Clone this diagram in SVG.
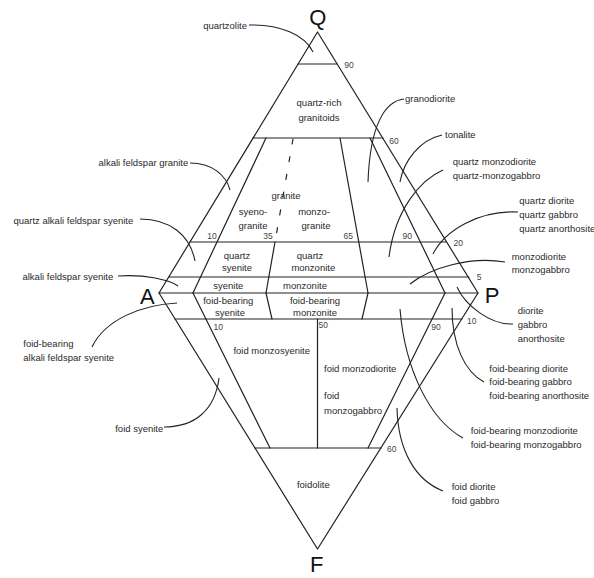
<svg xmlns="http://www.w3.org/2000/svg" width="594" height="578" viewBox="0 0 594 578">
<style>
.ln{fill:none;stroke:#222;stroke-width:1.2;stroke-linecap:round;stroke-linejoin:round}
.ld{fill:none;stroke:#222;stroke-width:1.1}
.t{font-family:"Liberation Sans",Arial,sans-serif;font-size:9.5px;fill:#2a2a2a}
.c{text-anchor:middle}
.e{text-anchor:end}
.n{font-family:"Liberation Sans",Arial,sans-serif;font-size:8.5px;fill:#444;text-anchor:middle}
.v{font-family:"Liberation Sans",Arial,sans-serif;font-size:22px;fill:#111;text-anchor:middle}
</style>
<rect width="594" height="578" fill="#fff"/>
<g id="frame">
<path class="ln" d="M317.5,32 L159,293 L317.5,549 L478,293 Z"/>
<line class="ln" x1="159" y1="293" x2="478" y2="293" stroke-width="2"/>
</g>
<g id="upper-fields">
<line class="ln" x1="298" y1="64" x2="337" y2="64"/>
<line class="ln" x1="253" y1="138" x2="383" y2="138"/>
<line class="ln" x1="190" y1="242" x2="446" y2="242"/>
<line class="ln" x1="169" y1="277" x2="469" y2="277"/>
<line class="ln" x1="266" y1="138" x2="193" y2="293"/>
<line class="ln" x1="293" y1="139" x2="275" y2="242" stroke-dasharray="5,13"/>
<line class="ln" x1="275" y1="242" x2="266" y2="293"/>
<line class="ln" x1="340" y1="138" x2="368" y2="293"/>
<line class="ln" x1="370" y1="138" x2="445" y2="293"/>
</g>
<g id="lower-fields">
<line class="ln" x1="175" y1="319" x2="462" y2="319"/>
<line class="ln" x1="255" y1="448" x2="381" y2="448"/>
<line class="ln" x1="193" y1="293" x2="270" y2="448"/>
<line class="ln" x1="266" y1="293" x2="272" y2="319"/>
<line class="ln" x1="368" y1="293" x2="362" y2="319"/>
<line class="ln" x1="445" y1="293" x2="368" y2="448"/>
<line class="ln" x1="317.5" y1="319" x2="317.5" y2="448"/>
</g>
<g id="connectors">
<path class="ld" d="M249,25 C280,24 305,35 313,52"/>
<path class="ld" d="M404,99 C385,101 370,125 368,182"/>
<path class="ld" d="M442,135 C420,140 404,160 400,182"/>
<path class="ld" d="M443,170 C420,180 395,210 389,257"/>
<path class="ld" d="M518,212 C480,210 445,230 433,254"/>
<path class="ld" d="M505,262 C470,256 430,268 410,284"/>
<path class="ld" d="M513,324 C490,325 465,305 457,287"/>
<path class="ld" d="M484,382 C465,372 452,345 452,308"/>
<path class="ld" d="M463,438 C430,420 405,370 400,309"/>
<path class="ld" d="M443,491 C415,480 398,450 397,408"/>
<path class="ld" d="M190,163 C212,163 226,175 230,190"/>
<path class="ld" d="M140,219 C170,219 190,235 195,261"/>
<path class="ld" d="M118,276 C145,274 170,280 178,286"/>
<path class="ld" d="M92,347 C105,320 140,305 177,303"/>
<path class="ld" d="M164,427 C195,427 215,410 219,378"/>
</g>
<g id="vertices">
<text class="v" x="317.7" y="25">Q</text>
<text class="v" x="147.3" y="304">A</text>
<text class="v" x="492" y="303">P</text>
<text class="v" x="316.7" y="572" font-size="20">F</text>
</g>
<g id="numbers">
<text class="n" x="349" y="68">90</text>
<text class="n" x="394" y="143.7">60</text>
<text class="n" x="212" y="239">10</text>
<text class="n" x="268" y="239">35</text>
<text class="n" x="348.3" y="239">65</text>
<text class="n" x="407.3" y="239">90</text>
<text class="n" x="458.3" y="246.3">20</text>
<text class="n" x="479" y="279.7">5</text>
<text class="n" x="218.3" y="329.7">10</text>
<text class="n" x="323.3" y="328">50</text>
<text class="n" x="436" y="329.7">90</text>
<text class="n" x="471.7" y="323.7">10</text>
<text class="n" x="391.7" y="452.3">60</text>
</g>
<g id="field-labels">
<text class="t c" x="319" y="106">quartz-rich</text>
<text class="t c" x="319" y="121">granitoids</text>
<text class="t c" x="286" y="198.5">granite</text>
<text class="t c" x="253" y="215">syeno-</text>
<text class="t c" x="253" y="228.5">granite</text>
<text class="t c" x="314" y="215">monzo-</text>
<text class="t c" x="316" y="228.5">granite</text>
<text class="t c" x="237" y="258.5">quartz</text>
<text class="t c" x="237" y="271">syenite</text>
<text class="t c" x="310" y="258.5">quartz</text>
<text class="t c" x="313.3" y="271">monzonite</text>
<text class="t c" x="228.3" y="288.5">syenite</text>
<text class="t c" x="305" y="288.5">monzonite</text>
<text class="t c" x="228.3" y="304">foid-bearing</text>
<text class="t c" x="230" y="316">syenite</text>
<text class="t c" x="315" y="304">foid-bearing</text>
<text class="t c" x="315" y="316">monzonite</text>
<text class="t c" x="271.7" y="354">foid monzosyenite</text>
<text class="t" x="324" y="371.8">foid monzodiorite</text>
<text class="t" x="324" y="399">foid</text>
<text class="t" x="324" y="413.5">monzogabbro</text>
<text class="t c" x="313.3" y="487.5">foidolite</text>
</g>
<g id="outer-labels">
<text class="t e" x="247" y="28.5">quartzolite</text>
<text class="t" x="405" y="101.8">granodiorite</text>
<text class="t" x="445" y="137.5">tonalite</text>
<text class="t" x="452.7" y="165">quartz monzodiorite</text>
<text class="t" x="452.7" y="178.5">quartz-monzogabbro</text>
<text class="t" x="519.3" y="204">quartz diorite</text>
<text class="t" x="519.3" y="217.5">quartz gabbro</text>
<text class="t" x="519.3" y="231.8">quartz anorthosite</text>
<text class="t" x="511.7" y="260">monzodiorite</text>
<text class="t" x="511.7" y="272.8">monzogabbro</text>
<text class="t" x="517.7" y="314">diorite</text>
<text class="t" x="517.7" y="327.8">gabbro</text>
<text class="t" x="517.7" y="341.8">anorthosite</text>
<text class="t" x="489.3" y="371.8">foid-bearing diorite</text>
<text class="t" x="489.3" y="385.2">foid-bearing gabbro</text>
<text class="t" x="489.3" y="399.2">foid-bearing anorthosite</text>
<text class="t" x="470.7" y="434.2">foid-bearing monzodiorite</text>
<text class="t" x="470.7" y="447.5">foid-bearing monzogabbro</text>
<text class="t" x="451.7" y="490.2">foid diorite</text>
<text class="t" x="451.7" y="503.5">foid gabbro</text>
<text class="t e" x="188.3" y="165.8">alkali feldspar granite</text>
<text class="t e" x="133.3" y="223.8">quartz alkali feldspar syenite</text>
<text class="t e" x="113.3" y="280.2">alkali feldspar syenite</text>
<text class="t" x="23.3" y="346.8">foid-bearing</text>
<text class="t" x="23.3" y="360.8">alkali feldspar syenite</text>
<text class="t e" x="163.3" y="431.8">foid syenite</text>
</g>
</svg>
